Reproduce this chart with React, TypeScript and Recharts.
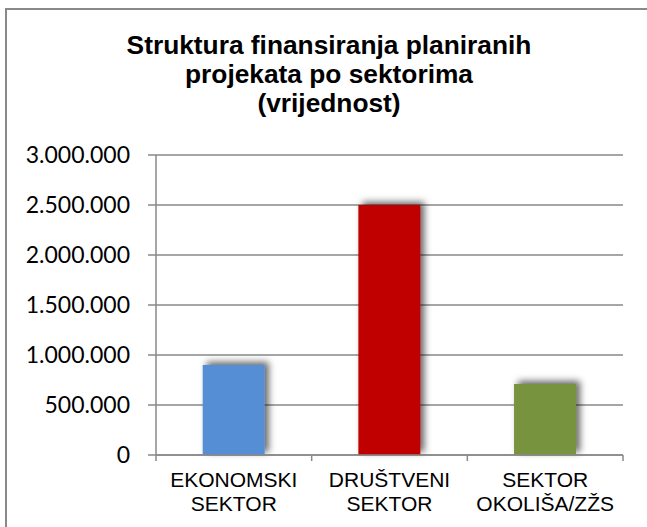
import React from "react";
import { Bar, BarChart, CartesianGrid, Cell, XAxis, YAxis } from "recharts";

const titleLines = [
  "Struktura finansiranja planiranih",
  "projekata po sektorima",
  "(vrijednost)",
];
const categories = ["EKONOMSKI SEKTOR", "DRUŠTVENI SEKTOR", "SEKTOR OKOLIŠA/ZŽS"];
const values = [900000, 2500000, 710000];
const barColors = ["#558ED5", "#C00000", "#77933C"];
const yTicks = [0, 500000, 1000000, 1500000, 2000000, 2500000, 3000000];

const data = categories.map((name, i) => ({ name, value: values[i] }));

const GRID = "#898989";
const ARIAL = '"Liberation Sans", Arial, sans-serif';

const formatNumber = (v: number) =>
  String(v).replace(/\B(?=(\d{3})+(?!\d))/g, ".");

function CategoryTick(props: any) {
  const { x, y, payload, index } = props;
  const half = payload && payload.offset > 0 ? payload.offset : 467 / categories.length / 2;
  const [first, ...rest] = String(payload.value).split(" ");
  return (
    <g>
      <line x1={x - half} x2={x - half} y1={y} y2={y + 6} stroke={GRID} strokeWidth={1.5} />
      {index === categories.length - 1 && (
        <line x1={x + half} x2={x + half} y1={y} y2={y + 6} stroke={GRID} strokeWidth={1.5} />
      )}
      <text textAnchor="middle" fontFamily={ARIAL} fontSize={21} fill="#000">
        <tspan x={x} y={y + 32}>
          {first}
        </tspan>
        <tspan x={x} y={y + 56}>
          {rest.join(" ")}
        </tspan>
      </text>
    </g>
  );
}

function ShadowBar(props: any) {
  const { x, y, width, height, index } = props;
  return (
    <rect
      x={x}
      y={y}
      width={width}
      height={height}
      fill={barColors[index]}
      filter="url(#barShadow)"
    />
  );
}

export default function App() {
  return (
    <div
      style={{
        position: "fixed",
        left: 0,
        top: 0,
        width: 647,
        height: 527,
        overflow: "hidden",
        background: "#fff",
        fontFamily: ARIAL,
      }}
    >
      <svg width={0} height={0} style={{ position: "absolute" }}>
        <defs>
          <filter id="barShadow" x="-40%" y="-40%" width="180%" height="180%">
            <feDropShadow dx={4} dy={-3} stdDeviation={3.5} floodColor="#000" floodOpacity={0.6} />
          </filter>
        </defs>
      </svg>
      <div
        style={{
          position: "absolute",
          left: 5,
          top: 8,
          width: 700,
          height: 600,
          borderLeft: `2px solid ${GRID}`,
          borderTop: `2px solid ${GRID}`,
        }}
      />
      <div
        style={{
          position: "absolute",
          left: 0,
          top: 31,
          width: 658,
          textAlign: "center",
          fontWeight: "bold",
          fontSize: 26.3,
          lineHeight: "29px",
          color: "#000",
        }}
      >
        {titleLines.map((line) => (
          <div key={line}>{line}</div>
        ))}
      </div>
      <div style={{ position: "absolute", left: 0, top: 0 }}>
        <BarChart
          width={647}
          height={527}
          data={data}
          margin={{ top: 155, right: 24, bottom: 0, left: 0 }}
          barCategoryGap="30%"
        >
          <CartesianGrid vertical={false} stroke={GRID} strokeWidth={1.5} />
          <XAxis
            dataKey="name"
            height={72}
            axisLine={{ stroke: GRID, strokeWidth: 1.5 }}
            tickLine={false}
            tickSize={0}
            tickMargin={0}
            interval={0}
            tick={<CategoryTick />}
          />
          <YAxis
            width={156}
            domain={[0, 3000000]}
            ticks={yTicks}
            interval={0}
            tickFormatter={formatNumber}
            axisLine={{ stroke: GRID, strokeWidth: 1.5 }}
            tickLine={{ stroke: GRID, strokeWidth: 1.5 }}
            tickSize={8}
            tickMargin={18}
            tick={{ fontSize: 23, fill: "#000", fontFamily: "Lato, sans-serif" }}
          />
          <Bar dataKey="value" isAnimationActive={false} shape={<ShadowBar />}>
            {data.map((d, i) => (
              <Cell key={d.name} fill={barColors[i]} />
            ))}
          </Bar>
        </BarChart>
      </div>
    </div>
  );
}
